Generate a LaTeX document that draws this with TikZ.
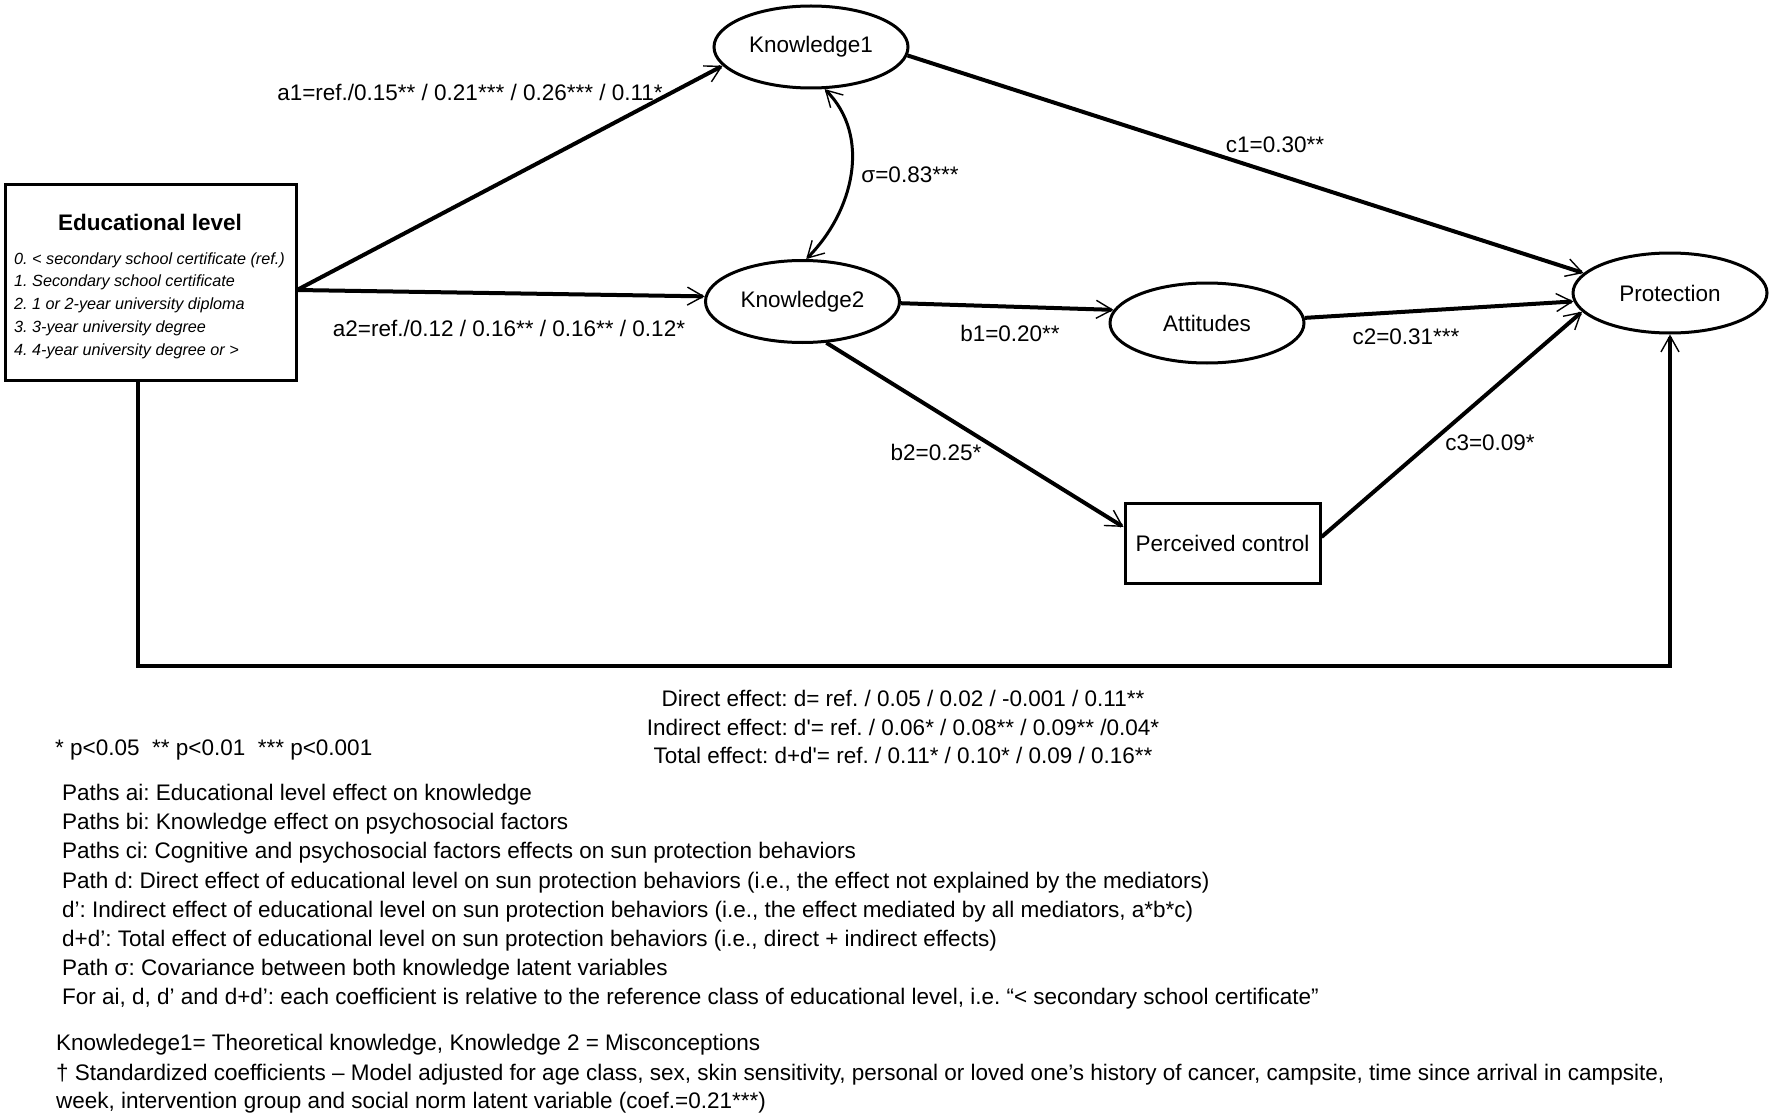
\documentclass[tikz,border=0pt]{standalone}
\usepackage{fontspec}
\setmainfont{Liberation Sans}
\usetikzlibrary{arrows.meta,shapes.geometric}
\frenchspacing
\begin{document}
\frenchspacing
\begin{tikzpicture}[x=1pt,y=-1pt,
  lat/.style={ellipse,draw,line width=3pt,minimum width=194pt,minimum height=82pt,inner sep=0pt,font=\fontsize{22.5}{27}\selectfont},
  boxed/.style={rectangle,draw,line width=3pt,inner sep=0pt},
  arr/.style={line width=4pt,-{Straight Barb[length=16pt,width=18pt,line width=1.4pt]}},
  lab/.style={font=\fontsize{22.5}{27}\selectfont,inner sep=0pt},
  note/.style={font=\fontsize{22.5}{29}\selectfont,anchor=west,inner sep=0pt,text height=16pt,text depth=5pt}]
\useasboundingbox (0,0) rectangle (1772,1118);

% nodes
\node[boxed,minimum width=291pt,minimum height=195pt] (edu) at (150.5,282.5) {};
\node[inner sep=0pt,font=\bfseries\fontsize{22.5}{27}\selectfont] (edutitle) at (150,222) {Educational level};
\node[inner sep=0pt,anchor=west,align=left,font=\itshape\fontsize{16.2}{22.7}\selectfont] (edulist) at (14,305.5)
 {0. < secondary school certificate (ref.)\\1. Secondary school certificate\\2. 1 or 2-year university diploma\\3. 3-year university degree\\4. 4-year university degree or >};

\node[lat] (k1) at (811,47) {Knowledge1};
\node[lat] (k2) at (802.5,301.5) {Knowledge2};
\node[lat,minimum height=80pt] (att) at (1207,323) {Attitudes};
\node[lat,minimum height=80pt] (prot) at (1670,293) {Protection};
\node[boxed,minimum width=195pt,minimum height=80pt,font=\fontsize{22.5}{27}\selectfont] (pc) at (1222.5,543) {Perceived control};

\coordinate (eo) at (297,290);
\coordinate (bc) at (900,666);

% connectors
\draw[arr] (eo) -- (k1.192);
\draw[arr] (eo) -- (k2.177);
\draw[arr] (k1.-5) -- (prot.167);
\draw[arr] (k2.-1) -- (att.172);
\draw[arr] (att.3) -- (prot.185);
\draw[arr] (k2.-60) -- ([yshift=16pt]pc.west);
\draw[arr] ([yshift=6pt]pc.east) -- (prot.192);
\draw[arr] ([xshift=-13pt]edu.south) |- (bc) -| (prot.south);
\draw[line width=3pt,{Straight Barb[length=16pt,width=18pt,line width=1.4pt]}-{Straight Barb[length=16pt,width=18pt,line width=1.4pt]}]
  (k1.-72) to[out=-45,in=45] (k2.85);

% path labels
\node[lab] (la1) at (470,92) {a1=ref./0.15** / 0.21*** / 0.26*** / 0.11*};
\node[lab] (la2) at (509,328) {a2=ref./0.12 / 0.16** / 0.16** / 0.12*};
\node[lab] (lsig) at (910,175) {σ=0.83***};
\node[lab] (lc1) at (1275,145) {c1=0.30**};
\node[lab] (lb1) at (1010,333) {b1=0.20**};
\node[lab] (lc2) at (1406,337) {c2=0.31***};
\node[lab] (lb2) at (936,452) {b2=0.25*};
\node[lab] (lc3) at (1490,443) {c3=0.09*};

% effects
\node[lab] (ed) at (903,698) {Direct effect: d= ref. / 0.05 / 0.02 / -0.001 / 0.11**};
\node[lab] (ei) at (903,727) {Indirect effect: d\textquotesingle= ref. / 0.06* / 0.08** / 0.09** /0.04*};
\node[lab] (et) at (903,755) {Total effect: d+d\textquotesingle= ref. / 0.11* / 0.10* / 0.09 / 0.16**};
\node[note] (pv) at (55,750) {* p<0.05~~** p<0.01~~*** p<0.001};

% notes
\node[note] (n1) at (62,795) {Paths ai: Educational level effect on knowledge};
\node[note] (n2) at (62,824) {Paths bi: Knowledge effect on psychosocial factors};
\node[note] (n3) at (62,853) {Paths ci: Cognitive and psychosocial factors effects on sun protection behaviors};
\node[note] (n4) at (62,883) {Path d: Direct effect of educational level on sun protection behaviors (i.e., the effect not explained by the mediators)};
\node[note] (n5) at (62,912) {d’: Indirect effect of educational level on sun protection behaviors (i.e., the effect mediated by all mediators, a*b*c)};
\node[note] (n6) at (62,941) {d+d’: Total effect of educational level on sun protection behaviors (i.e., direct + indirect effects)};
\node[note] (n7) at (62,970) {Path σ: Covariance between both knowledge latent variables};
\node[note] (n8) at (62,999) {For ai, d, d’ and d+d’: each coefficient is relative to the reference class of educational level, i.e. “< secondary school certificate”};
\node[note] (n9) at (56,1045) {Knowledege1= Theoretical knowledge, Knowledge 2 = Misconceptions};
\node[note] (n10) at (56,1075) {† Standardized coefficients – Model adjusted for age class, sex, skin sensitivity, personal or loved one’s history of cancer, campsite, time since arrival in campsite,};
\node[note] (n11) at (56,1103) {week, intervention group and social norm latent variable (coef.=0.21***)};
\end{tikzpicture}
\end{document}
